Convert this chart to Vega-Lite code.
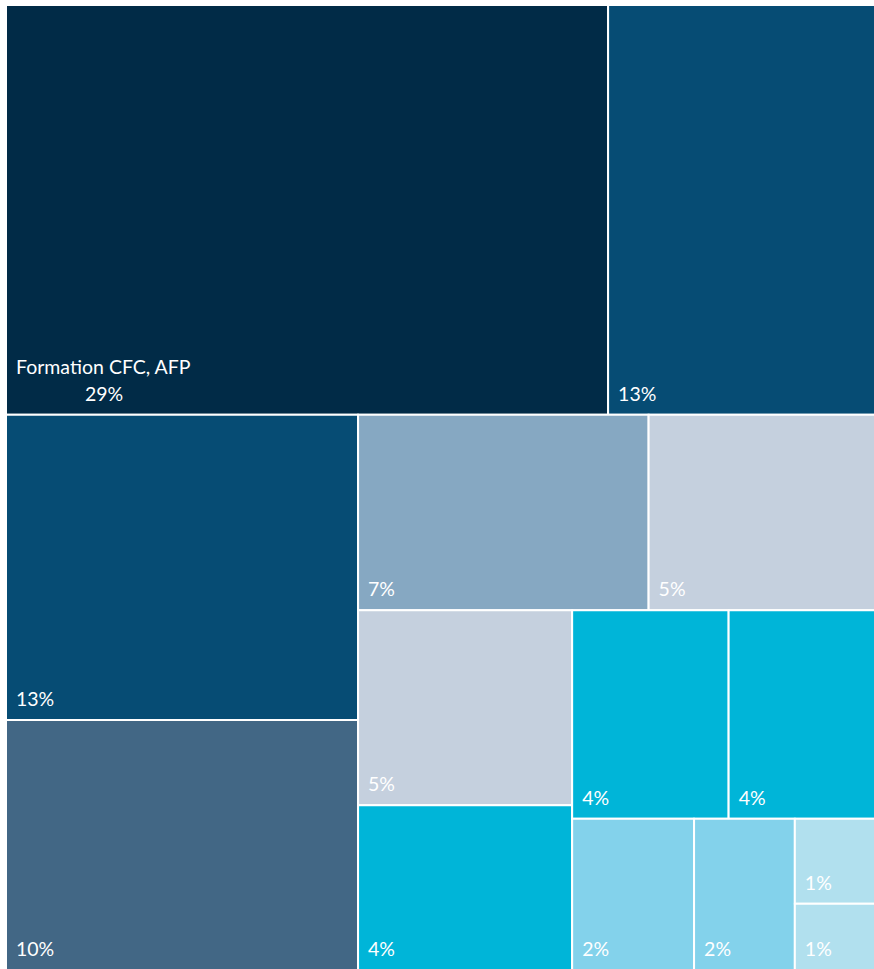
{
  "$schema": "https://vega.github.io/schema/vega-lite/v6.json",
  "width": 869,
  "height": 965,
  "autosize": "none",
  "padding": {"left": 6, "top": 5, "right": 0, "bottom": 0},
  "background": "white",
  "config": {"view": {"stroke": null}},
  "data": {
    "values": [
      {"order": 0, "id": "A", "name": "Formation CFC, AFP", "value": 29.28, "p1": "T", "p2": "A", "p3": "A", "p4": "A", "p5": "A", "p6": "A", "p7": "A"},
      {"order": 1, "id": "B", "name": null, "value": 12.98, "p1": "T", "p2": "B", "p3": "B", "p4": "B", "p5": "B", "p6": "B", "p7": "B"},
      {"order": 2, "id": "C", "name": null, "value": 12.76, "p1": "Bt", "p2": "L", "p3": "C", "p4": "C", "p5": "C", "p6": "C", "p7": "C"},
      {"order": 3, "id": "D", "name": null, "value": 10.45, "p1": "Bt", "p2": "L", "p3": "D", "p4": "D", "p5": "D", "p6": "D", "p7": "D"},
      {"order": 4, "id": "E", "name": null, "value": 6.75, "p1": "Bt", "p2": "R", "p3": "EF", "p4": "E", "p5": "E", "p6": "E", "p7": "E"},
      {"order": 5, "id": "F", "name": null, "value": 5.26, "p1": "Bt", "p2": "R", "p3": "EF", "p4": "F", "p5": "F", "p6": "F", "p7": "F"},
      {"order": 6, "id": "G", "name": null, "value": 4.95, "p1": "Bt", "p2": "R", "p3": "GN", "p4": "GH", "p5": "G", "p6": "G", "p7": "G"},
      {"order": 7, "id": "H", "name": null, "value": 4.19, "p1": "Bt", "p2": "R", "p3": "GN", "p4": "GH", "p5": "H", "p6": "H", "p7": "H"},
      {"order": 8, "id": "I", "name": null, "value": 3.87, "p1": "Bt", "p2": "R", "p3": "GN", "p4": "IN", "p5": "IJ", "p6": "I", "p7": "I"},
      {"order": 9, "id": "J", "name": null, "value": 3.62, "p1": "Bt", "p2": "R", "p3": "GN", "p4": "IN", "p5": "IJ", "p6": "J", "p7": "J"},
      {"order": 10, "id": "K", "name": null, "value": 2.19, "p1": "Bt", "p2": "R", "p3": "GN", "p4": "IN", "p5": "KN", "p6": "K", "p7": "K"},
      {"order": 11, "id": "L", "name": null, "value": 1.81, "p1": "Bt", "p2": "R", "p3": "GN", "p4": "IN", "p5": "KN", "p6": "L", "p7": "L"},
      {"order": 12, "id": "M", "name": null, "value": 0.81, "p1": "Bt", "p2": "R", "p3": "GN", "p4": "IN", "p5": "KN", "p6": "MN", "p7": "M"},
      {"order": 13, "id": "N", "name": null, "value": 0.63, "p1": "Bt", "p2": "R", "p3": "GN", "p4": "IN", "p5": "KN", "p6": "MN", "p7": "N"}
    ]
  },
  "transform": [
    {"joinaggregate": [{"op": "sum", "field": "value", "as": "T"}]},
    {"window": [{"op": "sum", "field": "value", "as": "cum"}], "sort": [{"field": "order"}], "frame": [null, 0]},
    {"calculate": "datum.cum - datum.value", "as": "st"},
    {"joinaggregate": [{"op": "sum", "field": "value", "as": "s1"}, {"op": "min", "field": "st", "as": "m1"}], "groupby": ["p1"]},
    {"joinaggregate": [{"op": "sum", "field": "value", "as": "s2"}, {"op": "min", "field": "st", "as": "m2"}], "groupby": ["p2"]},
    {"joinaggregate": [{"op": "sum", "field": "value", "as": "s3"}, {"op": "min", "field": "st", "as": "m3"}], "groupby": ["p3"]},
    {"joinaggregate": [{"op": "sum", "field": "value", "as": "s4"}, {"op": "min", "field": "st", "as": "m4"}], "groupby": ["p4"]},
    {"joinaggregate": [{"op": "sum", "field": "value", "as": "s5"}, {"op": "min", "field": "st", "as": "m5"}], "groupby": ["p5"]},
    {"joinaggregate": [{"op": "sum", "field": "value", "as": "s6"}, {"op": "min", "field": "st", "as": "m6"}], "groupby": ["p6"]},
    {"joinaggregate": [{"op": "sum", "field": "value", "as": "s7"}, {"op": "min", "field": "st", "as": "m7"}], "groupby": ["p7"]},
    {"calculate": "datum.m1 / datum.T", "as": "y0_1"},
    {"calculate": "datum.s1 / datum.T", "as": "h1"},
    {"calculate": "(datum.m2 - datum.m1) / datum.s1", "as": "x0_2"},
    {"calculate": "datum.s2 / datum.s1", "as": "w2"},
    {"calculate": "datum.y0_1 + (datum.m3 - datum.m2) / datum.s2 * datum.h1", "as": "y0_3"},
    {"calculate": "datum.s3 / datum.s2 * datum.h1", "as": "h3"},
    {"calculate": "datum.x0_2 + (datum.m4 - datum.m3) / datum.s3 * datum.w2", "as": "x0_4"},
    {"calculate": "datum.s4 / datum.s3 * datum.w2", "as": "w4"},
    {"calculate": "datum.y0_3 + (datum.m5 - datum.m4) / datum.s4 * datum.h3", "as": "y0_5"},
    {"calculate": "datum.s5 / datum.s4 * datum.h3", "as": "h5"},
    {"calculate": "datum.x0_4 + (datum.m6 - datum.m5) / datum.s5 * datum.w4", "as": "x0"},
    {"calculate": "datum.s6 / datum.s5 * datum.w4", "as": "w6"},
    {"calculate": "datum.y0_5 + (datum.m7 - datum.m6) / datum.s6 * datum.h5", "as": "y0"},
    {"calculate": "datum.s7 / datum.s6 * datum.h5", "as": "h7"},
    {"calculate": "datum.x0 + datum.w6", "as": "x1"},
    {"calculate": "datum.y0 + datum.h7", "as": "y1"},
    {"calculate": "format(datum.value, '.0f') + '%'", "as": "pct"}
  ],
  "layer": [
    {
      "mark": {"type": "rect", "stroke": "white", "strokeWidth": 2},
      "encoding": {
        "x": {"field": "x0", "type": "quantitative", "scale": {"domain": [0, 1], "nice": false, "zero": false}, "axis": null},
        "x2": {"field": "x1"},
        "y": {"field": "y0", "type": "quantitative", "scale": {"domain": [0, 1], "nice": false, "zero": false, "reverse": true}, "axis": null},
        "y2": {"field": "y1"},
        "color": {
          "field": "pct", "type": "nominal", "legend": null,
          "scale": {
            "domain": ["29%", "13%", "10%", "7%", "5%", "4%", "2%", "1%"],
            "range": ["#012b47", "#064c74", "#426785", "#86a8c2", "#c5d0de", "#00b5d8", "#83d2eb", "#b1e0ee"]
          }
        }
      }
    },
    {
      "transform": [{"filter": "datum.name == null"}],
      "mark": {"type": "text", "align": "left", "baseline": "alphabetic", "dx": 10, "dy": -14, "color": "white", "font": "Lato", "fontSize": 19.5},
      "encoding": {
        "x": {"field": "x0", "type": "quantitative"},
        "y": {"field": "y1", "type": "quantitative"},
        "text": {"field": "pct"}
      }
    },
    {
      "transform": [{"filter": "datum.name != null"}],
      "mark": {"type": "text", "align": "left", "baseline": "alphabetic", "dx": 10, "dy": -41, "color": "white", "font": "Lato", "fontSize": 19.5},
      "encoding": {
        "x": {"field": "x0", "type": "quantitative"},
        "y": {"field": "y1", "type": "quantitative"},
        "text": {"field": "name"}
      }
    },
    {
      "transform": [{"filter": "datum.name != null"}],
      "mark": {"type": "text", "align": "center", "baseline": "alphabetic", "dx": 98, "dy": -14, "color": "white", "font": "Lato", "fontSize": 19.5},
      "encoding": {
        "x": {"field": "x0", "type": "quantitative"},
        "y": {"field": "y1", "type": "quantitative"},
        "text": {"field": "pct"}
      }
    }
  ]
}
